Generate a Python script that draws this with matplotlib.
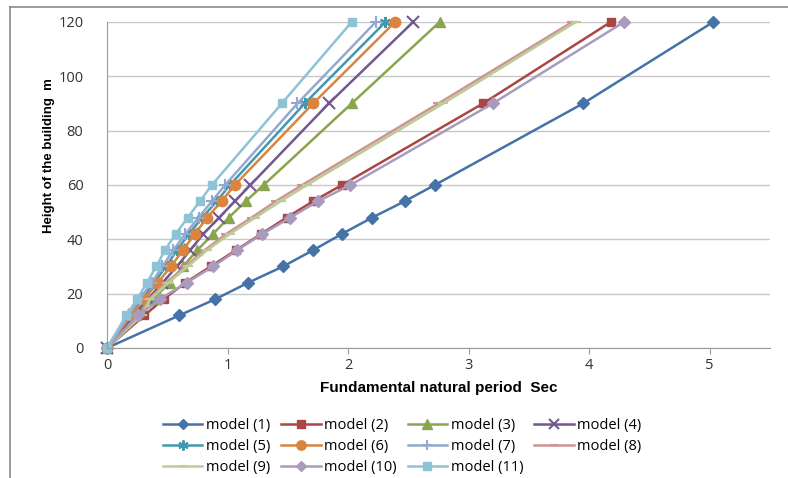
import numpy as np
import matplotlib
matplotlib.use("Agg")
import matplotlib.pyplot as plt
from matplotlib.lines import Line2D

plt.rcParams['font.family'] = ['Open Sans', 'DejaVu Sans']

heights = [0, 12, 18, 24, 30, 36, 42, 48, 54, 60, 90, 120]

m1 = [0, 0.60, 0.90, 1.17, 1.46, 1.71, 1.95, 2.20, 2.47, 2.72, 3.95, 5.03]
m2 = [0, 0.31, 0.47, 0.65, 0.86, 1.07, 1.28, 1.49, 1.71, 1.95, 3.12, 4.18]
m3 = [0, 0.24, 0.38, 0.52, 0.63, 0.75, 0.88, 1.01, 1.15, 1.30, 2.03, 2.76]
m4 = [0, 0.22, 0.34, 0.46, 0.58, 0.69, 0.80, 0.93, 1.06, 1.19, 1.84, 2.54]
m5 = [0, 0.19, 0.29, 0.39, 0.49, 0.58, 0.68, 0.79, 0.91, 1.02, 1.64, 2.31]
m6 = [0, 0.20, 0.31, 0.42, 0.53, 0.63, 0.73, 0.83, 0.95, 1.06, 1.71, 2.39]
m7 = [0, 0.18, 0.27, 0.37, 0.46, 0.55, 0.65, 0.76, 0.87, 0.98, 1.58, 2.23]
m8 = [0, 0.28, 0.35, 0.49, 0.65, 0.81, 0.99, 1.20, 1.40, 1.62, 2.75, 3.86]
m9 = [0, 0.29, 0.36, 0.51, 0.67, 0.83, 1.02, 1.23, 1.44, 1.66, 2.79, 3.89]
m10 = [0, 0.26, 0.44, 0.66, 0.88, 1.08, 1.29, 1.52, 1.75, 2.02, 3.20, 4.29]
m11 = [0, 0.16, 0.25, 0.33, 0.41, 0.48, 0.57, 0.67, 0.77, 0.87, 1.45, 2.03]

labels = ['model (1)', 'model (2)', 'model (3)', 'model (4)', 'model (5)', 'model (6)',
          'model (7)', 'model (8)', 'model (9)', 'model (10)', 'model (11)']
series = [m1, m2, m3, m4, m5, m6, m7, m8, m9, m10, m11]

colors = ['#4572A7', '#AA4643', '#89A54E', '#71588F', '#4198AF', '#DB843D',
          '#93A9CF', '#D19392', '#B9CD96', '#A99BBD', '#8EC3D6']
markers = ['D', 's', '^', 'x', (6, 2, 0), 'o', '+', '_', '_', 'D', 's']
msizes = [6, 6, 7.5, 8, 8, 7.5, 8, 7, 7, 6, 6]

fig = plt.figure(figsize=(7.88, 4.78), dpi=100)
ax = fig.add_axes([0.1358, 0.272, 0.8412, 0.682])

handles = []
for t, lab, c, mk, ms in zip(series, labels, colors, markers, msizes):
    mew = 1.5 if mk in ('x', '+', '_') or isinstance(mk, tuple) else 1
    h, = ax.plot(t, heights, color=c, lw=1.8, marker=mk, ms=ms,
                 mec=c, mfc=c, mew=mew, label=lab, clip_on=False)
    handles.append(h)

ax.set_xlim(0, 5.5)
ax.set_ylim(0, 120)
ax.set_xticks([0, 1, 2, 3, 4, 5])
ax.set_yticks(range(0, 121, 20))
ax.yaxis.grid(True, color='#C8C8C8', lw=1)
ax.set_axisbelow(True)
for s in ['top', 'right']:
    ax.spines[s].set_visible(False)
ax.spines['left'].set_color('#9A9A9A')
ax.spines['bottom'].set_color('#9A9A9A')
ax.tick_params(axis='x', colors='#9A9A9A', labelcolor='#333333', labelsize=10.5, length=4,
               direction='out', pad=3)
ax.tick_params(axis='y', colors='#9A9A9A', labelcolor='#333333', labelsize=10.5, length=0, pad=17)

ax.set_xlabel('Fundamental natural period  Sec', fontsize=11, fontweight='bold', labelpad=6,
              family=['Liberation Sans Narrow', 'Liberation Sans', 'DejaVu Sans'])
ax.set_ylabel('Height of the building  m', fontsize=9.5, fontweight='bold',
              family=['Liberation Sans Narrow', 'Liberation Sans', 'DejaVu Sans'])
ax.yaxis.set_label_coords(-0.078, 0.59)

order = [0, 4, 8, 1, 5, 9, 2, 6, 10, 3, 7]
fig.legend([handles[i] for i in order], [labels[i] for i in order],
           loc='upper left', bbox_to_anchor=(0.19, 0.153), ncol=4, frameon=False,
           fontsize=10.5, handlelength=2.7, handletextpad=0.25, columnspacing=0.75,
           labelspacing=0.42, markerscale=0.9)

# outer frame lines
fig.add_artist(Line2D([0.0127, 0.0127], [0.0, 0.985], color='#8A8A8A', lw=1.2, transform=fig.transFigure))
fig.add_artist(Line2D([0.0127, 1.0], [0.985, 0.985], color='#8A8A8A', lw=1.2, transform=fig.transFigure))

fig.savefig('out.png', dpi=100)
